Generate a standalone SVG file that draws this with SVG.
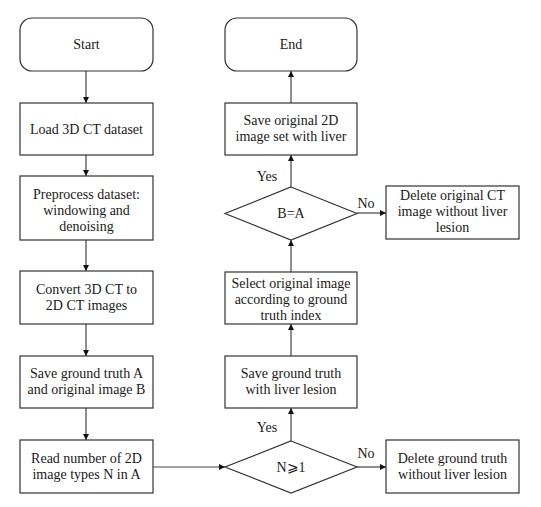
<svg xmlns="http://www.w3.org/2000/svg" width="541" height="507" viewBox="0 0 541 507">
<style>
.n{fill:#fff;stroke:#333;stroke-width:1.2}
.t{font-family:"Liberation Serif","DejaVu Serif",serif;font-size:14px;fill:#1a1a1a;text-anchor:middle}
.c{stroke:#444;stroke-width:1.2;fill:none;marker-end:url(#a)}
</style>
<defs>
<marker id="a" viewBox="0 0 10 10" refX="10" refY="5" markerWidth="6" markerHeight="6" markerUnits="userSpaceOnUse" orient="auto">
<path d="M0,0L10,5L0,10z" fill="#111"/>
</marker>
</defs>
<rect width="541" height="507" fill="#fff"/>
<g id="connectors">
<line class="c" x1="86" y1="71" x2="86" y2="103"/>
<line class="c" x1="86" y1="155" x2="86" y2="176"/>
<line class="c" x1="86" y1="240" x2="86" y2="271"/>
<line class="c" x1="86" y1="324" x2="86" y2="356"/>
<line class="c" x1="86" y1="408" x2="86" y2="440"/>
<line class="c" x1="153" y1="467" x2="225" y2="467"/>
<line class="c" x1="357" y1="467" x2="386" y2="467"/>
<line class="c" x1="291" y1="441" x2="291" y2="408"/>
<line class="c" x1="291" y1="356" x2="291" y2="324"/>
<line class="c" x1="291" y1="272" x2="291" y2="240"/>
<line class="c" x1="357" y1="213" x2="386" y2="213"/>
<line class="c" x1="291" y1="187" x2="291" y2="155"/>
<line class="c" x1="291" y1="103" x2="291" y2="71"/>
<text class="t" x="267" y="181">Yes</text>
<text class="t" x="366" y="208">No</text>
<text class="t" x="267" y="432">Yes</text>
<text class="t" x="366" y="458">No</text>
</g>
<g id="start"><rect class="n" x="20" y="18" width="133" height="53" rx="12"/><text class="t" x="86.5" y="49">Start</text></g>
<g id="load"><rect class="n" x="20" y="103" width="133" height="52"/><text class="t" x="86.5" y="134">Load 3D CT dataset</text></g>
<g id="preprocess"><rect class="n" x="20" y="176" width="133" height="64"/><text class="t" x="86.5" y="199">Preprocess dataset:</text><text class="t" x="86.5" y="215">windowing and</text><text class="t" x="86.5" y="231">denoising</text></g>
<g id="convert"><rect class="n" x="20" y="271" width="133" height="53"/><text class="t" x="86.5" y="294">Convert 3D CT to</text><text class="t" x="86.5" y="310">2D CT images</text></g>
<g id="saveA"><rect class="n" x="20" y="356" width="133" height="52"/><text class="t" x="86.5" y="378">Save ground truth A</text><text class="t" x="86.5" y="394">and original image B</text></g>
<g id="read"><rect class="n" x="20" y="440" width="133" height="53"/><text class="t" x="86.5" y="463">Read number of 2D</text><text class="t" x="86.5" y="479">image types N in A</text></g>
<g id="decisionN"><polygon class="n" points="291,441 357,467 291,493 225,467"/><text class="t" x="291" y="472">N⩾1</text></g>
<g id="deleteGT"><rect class="n" x="386" y="440" width="133" height="53"/><text class="t" x="452.5" y="463">Delete ground truth</text><text class="t" x="452.5" y="479">without liver lesion</text></g>
<g id="saveGT"><rect class="n" x="225" y="356" width="132" height="52"/><text class="t" x="291" y="378">Save ground truth</text><text class="t" x="291" y="394">with liver lesion</text></g>
<g id="select"><rect class="n" x="225" y="272" width="132" height="52"/><text class="t" x="291" y="288">Select original image</text><text class="t" x="291" y="304">according to ground</text><text class="t" x="291" y="320">truth index</text></g>
<g id="decisionBA"><polygon class="n" points="291,187 357,213.5 291,240 225,213.5"/><text class="t" x="291" y="218">B=A</text></g>
<g id="deleteOrig"><rect class="n" x="386" y="186" width="133" height="53"/><text class="t" x="452.5" y="200">Delete original CT</text><text class="t" x="452.5" y="216">image without liver</text><text class="t" x="452.5" y="232">lesion</text></g>
<g id="saveOrig"><rect class="n" x="225" y="103" width="132" height="52"/><text class="t" x="291" y="125">Save original 2D</text><text class="t" x="291" y="141">image set with liver</text></g>
<g id="end"><rect class="n" x="225" y="18" width="132" height="53" rx="12"/><text class="t" x="291" y="49">End</text></g>
</svg>
